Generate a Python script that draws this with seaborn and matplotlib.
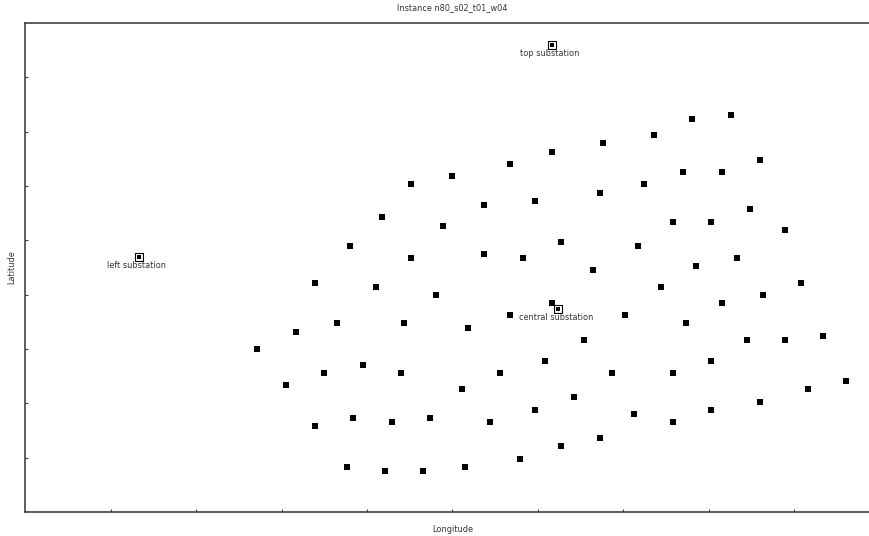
import matplotlib
matplotlib.use("Agg")
import matplotlib.pyplot as plt
import seaborn as sns
import pandas as pd

# Turbine positions (plot units)
turbine_lon = [
    8.263, 7.810, 7.365, 6.761, 6.164, 5.676, 5.002, 4.516, 8.600, 8.155,
    7.698, 7.245, 6.729, 5.972, 5.375, 4.177, 4.891, 8.486, 8.033, 7.588,
    8.899, 3.802, 6.276, 7.174, 4.516, 5.375, 5.824, 8.334, 7.850, 6.648,
    3.389, 4.103, 7.440, 9.083, 4.813, 8.638, 6.164, 8.155, 5.676, 7.022,
    3.650, 4.438, 7.740, 5.187, 3.166, 6.539, 8.447, 8.899, 9.344, 2.713,
    6.085, 8.033, 3.954, 3.498, 4.399, 5.559, 6.870, 7.588, 9.607, 3.053,
    5.114, 9.162, 6.425, 8.600, 5.972, 8.033, 7.131, 3.841, 4.739, 4.290,
    5.445, 7.588, 3.389, 6.729, 6.276, 5.789, 3.763, 5.152, 4.215, 4.660,
]
turbine_lat = [
    7.306, 7.225, 6.930, 6.783, 6.630, 6.403, 6.175, 6.028, 6.477, 6.256,
    6.256, 6.028, 5.880, 5.733, 5.654, 5.427, 5.273, 5.580, 5.346, 5.346,
    5.199, 4.904, 4.972, 4.904, 4.678, 4.751, 4.678, 4.678, 4.525, 4.451,
    4.223, 4.149, 4.149, 4.223, 4.002, 4.002, 3.849, 3.849, 3.628, 3.628,
    3.475, 3.475, 3.475, 3.389, 3.315, 3.162, 3.162, 3.162, 3.236, 3.007,
    2.786, 2.786, 2.713, 2.560, 2.560, 2.560, 2.560, 2.560, 2.413, 2.333,
    2.265, 2.265, 2.112, 2.031, 1.884, 1.884, 1.810, 1.737, 1.737, 1.657,
    1.657, 1.657, 1.584, 1.363, 1.210, 0.982, 0.834, 0.834, 0.761, 0.761,
]

# Substations
substation_names = ["top substation", "left substation", "central substation"]
substation_lon = [6.162, 1.331, 6.238]
substation_lat = [8.600, 4.696, 3.744]

title_text = "Instance n80_s02_t01_w04"

turbines = pd.DataFrame({"lon": turbine_lon, "lat": turbine_lat})
subs = pd.DataFrame({"name": substation_names, "lon": substation_lon,
                     "lat": substation_lat})

sns.set_theme(style="white")
plt.rcParams["font.family"] = ["DejaVu Sans"]
text_color = "#333333"
fs = 5.9

W, H = 869, 536
fig = plt.figure(figsize=(W / 100, H / 100), dpi=100)
left_px, right_px, top_px, bottom_px = 25.3, 879.3, 23.0, 512.0
ax = fig.add_axes([left_px / W, (H - bottom_px) / H,
                   (right_px - left_px) / W, (bottom_px - top_px) / H])

sns.scatterplot(data=turbines, x="lon", y="lat", ax=ax, marker="s",
                s=19, color="black", linewidth=0, zorder=3)

# substation symbol: white square with black outline and black core
sns.scatterplot(data=subs, x="lon", y="lat", ax=ax, marker="s", s=36,
                facecolor="white", edgecolor="black", linewidth=0.8, zorder=4)
sns.scatterplot(data=subs, x="lon", y="lat", ax=ax, marker="s", s=12,
                color="black", linewidth=0, zorder=5)

for name, lon, lat in zip(substation_names, substation_lon, substation_lat):
    ax.annotate(name, (lon, lat), xytext=(-1.5, -3.2), textcoords="offset points",
                ha="center", va="top", fontsize=fs, color=text_color, zorder=6)

ax.set_xlim(0, 10)
ax.set_ylim(0, 9)
ax.set_xticks(range(1, 10))
ax.set_yticks(range(1, 9))
ax.set_xticklabels([])
ax.set_yticklabels([])
ax.tick_params(axis="both", direction="in", length=2.2, width=0.8,
               color="#444444", bottom=True, left=True, top=False, right=False)

for side, sp in ax.spines.items():
    sp.set_color("#333333")
    sp.set_linewidth(1.1)

ax.set_title(title_text, fontsize=fs, color=text_color, pad=9)
ax.set_xlabel("Longitude", fontsize=fs, color=text_color, labelpad=6)
ax.set_ylabel("Latitude", fontsize=fs, color=text_color, labelpad=3)

fig.savefig("out.png", dpi=100)
